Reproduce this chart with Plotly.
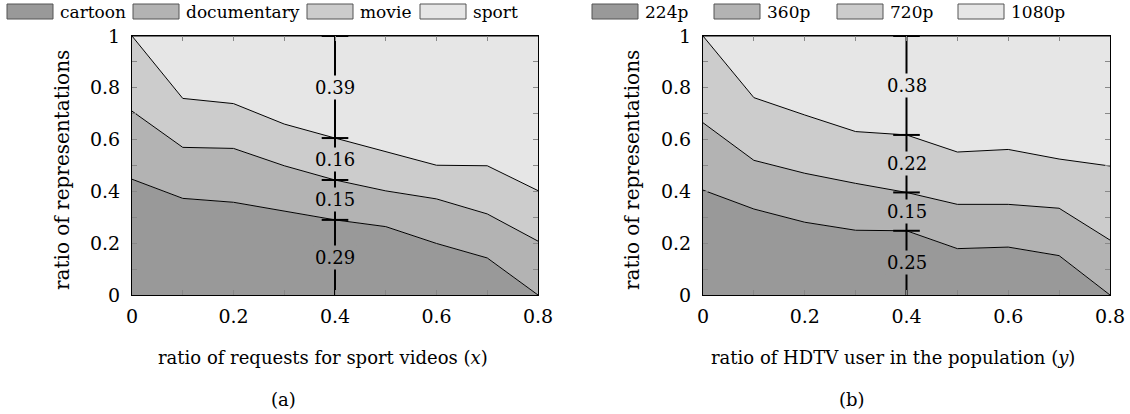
import plotly.graph_objects as go

# ---------------- data ----------------
x_vals = [0.0, 0.1, 0.2, 0.3, 0.4, 0.5, 0.6, 0.7, 0.8]

# panel (a): share of representations per video category
cats_a = ["cartoon", "documentary", "movie", "sport"]
cartoon = [0.447, 0.373, 0.358, 0.324, 0.290, 0.264, 0.199, 0.143, 0.000]
documentary = [0.263, 0.197, 0.208, 0.175, 0.154, 0.138, 0.172, 0.170, 0.208]
movie = [0.290, 0.189, 0.173, 0.161, 0.162, 0.151, 0.130, 0.186, 0.195]
sport = [0.000, 0.241, 0.261, 0.340, 0.394, 0.447, 0.499, 0.501, 0.597]

# panel (b): share of representations per resolution
cats_b = ["224p", "360p", "720p", "1080p"]
r224 = [0.405, 0.332, 0.281, 0.250, 0.248, 0.179, 0.185, 0.152, 0.000]
r360 = [0.260, 0.188, 0.189, 0.181, 0.148, 0.171, 0.165, 0.183, 0.212]
r720 = [0.335, 0.242, 0.225, 0.200, 0.222, 0.202, 0.212, 0.190, 0.286]
r1080 = [0.000, 0.238, 0.305, 0.369, 0.382, 0.448, 0.438, 0.475, 0.502]

marked_x = 0.4
x_ticks = [0, 0.2, 0.4, 0.6, 0.8]
y_ticks = [0, 0.2, 0.4, 0.6, 0.8, 1]

x_title_a = "ratio of requests for sport videos (<i>x</i>)"
x_title_b = "ratio of HDTV user in the population (<i>y</i>)"
y_title = "ratio of representations"
sub_a, sub_b = "(a)", "(b)"

# ---------------- style / layout ----------------
W, H = 1130, 414
FONT = "DejaVu Serif"
FS = 18
fills = ["#999999", "#b3b3b3", "#cccccc", "#e6e6e6"]

# plot areas in pixels: (left, right), (top, bottom)
panels = [
    dict(xp=(132, 538), yp=(36, 295), xt=x_title_a, xt_x=323, sub=sub_a, sub_x=283, ytx=62,
         cats=cats_a, series=[cartoon, documentary, movie, sport],
         legend_box=[7, 133, 307, 420]),
    dict(xp=(703, 1110), yp=(36, 295), xt=x_title_b, xt_x=893, sub=sub_b, sub_x=852, ytx=632,
         cats=cats_b, series=[r224, r360, r720, r1080],
         legend_box=[592, 714, 837, 958]),
]

def px(x):
    return x / W

def py(y):
    return 1 - y / H

fig = go.Figure()
annotations = []
shapes = []

for i, p in enumerate(panels):
    xa = "x" if i == 0 else "x2"
    ya = "y" if i == 0 else "y2"
    sg = f"stack{i}"
    for k, (name, vals) in enumerate(zip(p["cats"], p["series"])):
        fig.add_trace(go.Scatter(
            x=x_vals, y=vals, name=name, mode="lines", stackgroup=sg,
            line=dict(color="black", width=1), fillcolor=fills[k],
            showlegend=False, xaxis=xa, yaxis=ya, hoverinfo="skip"))

    # values at the marked x position
    idx = x_vals.index(marked_x)
    shares = [s[idx] for s in p["series"]]
    cum = []
    acc = 0.0
    for s in shares:
        acc += s
        cum.append(acc)

    fig.add_trace(go.Scatter(
        x=[marked_x, marked_x], y=[0, cum[-1]], mode="lines",
        line=dict(color="black", width=2), showlegend=False,
        xaxis=xa, yaxis=ya, hoverinfo="skip", cliponaxis=False))
    fig.add_trace(go.Scatter(
        x=[marked_x] * len(cum), y=cum,
        mode="markers",
        marker=dict(symbol="line-ew", size=19, line=dict(color="black", width=2)),
        showlegend=False, xaxis=xa, yaxis=ya, hoverinfo="skip", cliponaxis=False))

    lower = 0.0
    for k, s in enumerate(shares):
        annotations.append(dict(
            x=marked_x, y=lower + s / 2, xref=xa, yref=ya, text=f"{s:.2f}",
            showarrow=False, font=dict(family=FONT, size=FS, color="black"),
            bgcolor=fills[k], borderpad=1))
        lower += s

    # axis titles / subcaptions
    annotations.append(dict(x=px(p["xt_x"]), y=py(357), xref="paper", yref="paper",
                            text=p["xt"], showarrow=False,
                            font=dict(family=FONT, size=FS, color="black"),
                            xanchor="center", yanchor="middle"))
    annotations.append(dict(x=px(p["sub_x"]), y=py(399), xref="paper", yref="paper",
                            text=p["sub"], showarrow=False,
                            font=dict(family=FONT, size=FS, color="black"),
                            xanchor="center", yanchor="middle"))
    annotations.append(dict(x=px(p["ytx"]), y=py(170), xref="paper", yref="paper",
                            text=y_title, showarrow=False, textangle=-90,
                            font=dict(family=FONT, size=FS + 2, color="black"),
                            xanchor="center", yanchor="middle"))

    # legend (manual boxes + labels)
    for k, name in enumerate(p["cats"]):
        bx = p["legend_box"][k]
        shapes.append(dict(type="rect", xref="paper", yref="paper",
                           x0=px(bx), x1=px(bx + 46), y0=py(19), y1=py(4),
                           fillcolor=fills[k], line=dict(color="#555555", width=1)))
        annotations.append(dict(x=px(bx + 51), y=py(11.5), xref="paper", yref="paper",
                                text=name, showarrow=False, xanchor="left",
                                yanchor="middle",
                                font=dict(family=FONT, size=FS - 1, color="black")))

axis_common = dict(
    showline=True, linecolor="black", linewidth=1.2, mirror="allticks",
    ticks="inside", ticklen=5, tickwidth=1, tickcolor="#888888",
    showgrid=False, zeroline=False,
    tickfont=dict(family=FONT, size=FS + 1, color="black"),
    minor=dict(ticks="inside", ticklen=5, tickwidth=1, tickcolor="#888888", showgrid=False),
    automargin=False,
)

for i, p in enumerate(panels):
    sfx = "" if i == 0 else "2"
    fig.layout["xaxis" + sfx] = dict(
        axis_common, domain=[px(p["xp"][0]), px(p["xp"][1])], range=[0, 0.8],
        tickvals=x_ticks, ticklabelstandoff=4,
        minor=dict(axis_common["minor"], dtick=0.1, tick0=0),
        anchor="y" + sfx)
    fig.layout["yaxis" + sfx] = dict(
        axis_common, domain=[py(p["yp"][1]), py(p["yp"][0])], range=[0, 1],
        tickvals=y_ticks, ticklabelstandoff=7,
        minor=dict(axis_common["minor"], dtick=0.1, tick0=0),
        anchor="x" + sfx)

fig.update_layout(
    width=W, height=H, margin=dict(l=0, r=0, t=0, b=0),
    paper_bgcolor="white", plot_bgcolor="white",
    annotations=annotations, shapes=shapes, showlegend=False,
    font=dict(family=FONT, size=FS, color="black"),
)

fig.write_html("out.html")
